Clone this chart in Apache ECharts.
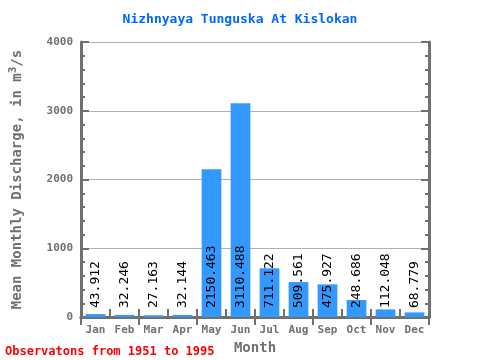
<!DOCTYPE html>
<html><head><meta charset="utf-8">
<script src="https://cdn.jsdelivr.net/npm/echarts@6/dist/echarts.min.js"></script>
<style>html,body{margin:0;padding:0;background:#fff}#c{width:480px;height:360px}</style>
</head><body><div id="c"></div>
<script>
const months = ["Jan","Feb","Mar","Apr","May","Jun","Jul","Aug","Sep","Oct","Nov","Dec"];
const discharge = [43.912,32.246,27.163,32.144,2150.463,3110.488,711.122,509.561,475.927,248.686,112.048,68.779];
const labels = ["43.912","32.246","27.163","32.144","2150.463","3110.488","711.122","509.561","475.927","248.686","112.048","68.779"];
const yTicks = [0,1000,2000,3000,4000];

const font = "DejaVu Sans Mono";
const axisGray = "#707070";
const chart = echarts.init(document.getElementById('c'));
const axLine = {show:true, lineStyle:{color:axisGray, width:3}};
const tick = {show:true, inside:true, length:8, lineStyle:{color:axisGray, width:2}};
const minor = {show:true, splitNumber:5, length:4, lineStyle:{color:axisGray, width:2}};
chart.setOption({
  animation:false,
  backgroundColor:'#fff',
  title:{text:"Nizhnyaya Tunguska At Kislokan", left:'center', top:8,
    textStyle:{fontFamily:font, fontSize:13, fontWeight:'bold', color:'#0066ff'}},
  grid:{left:79, right:51, top:42, bottom:38},
  graphic:[{type:'text', left:5, top:346, style:{text:"Observatons from 1951 to 1995", fill:'#ff0000', font:"bold 12px 'DejaVu Sans Mono'"}}],
  xAxis:[{type:'category', data:months, position:'bottom',
    axisLine:axLine, axisTick:tick,
    axisLabel:{fontFamily:font, fontSize:11, fontWeight:'bold', color:axisGray, margin:8},
    name:"Month", nameLocation:'middle', nameGap:20,
    nameTextStyle:{fontFamily:font, fontSize:14, fontWeight:'bold', color:axisGray}},
   {type:'category', data:months, position:'top',
    axisLine:axLine, axisTick:tick, axisLabel:{show:false}}],
  yAxis:[{type:'value', min:yTicks[0], max:yTicks[yTicks.length-1], interval:1000,
    axisLine:axLine, axisTick:tick, minorTick:minor,
    splitLine:{show:true, lineStyle:{color:'#b0b0b0', width:1}},
    axisLabel:{fontFamily:font, fontSize:11, fontWeight:'bold', color:axisGray, margin:8, formatter:v=>String(v)},
    name:"Mean Monthly Discharge, in m{s|3}/s", nameLocation:'middle', nameGap:54,
    nameTextStyle:{fontFamily:font, fontSize:14, fontWeight:'bold', color:axisGray,
      rich:{s:{fontFamily:font, fontSize:11, fontWeight:'bold', color:axisGray, verticalAlign:'bottom', padding:[0,0,8,0]}}}},
   {type:'value', position:'right', min:yTicks[0], max:yTicks[yTicks.length-1], interval:1000,
    axisLine:axLine, axisTick:tick, minorTick:minor,
    splitLine:{show:false}, axisLabel:{show:false}}],
  series:[{type:'bar', data:discharge, barWidth:'68%', itemStyle:{color:'#3399ff'},
    label:{show:true, position:'insideBottom', rotate:90, align:'left', verticalAlign:'middle', distance:9,
      fontFamily:font, fontSize:13, color:'#000',
      formatter:p=>labels[p.dataIndex]}}]
});
</script></body></html>
